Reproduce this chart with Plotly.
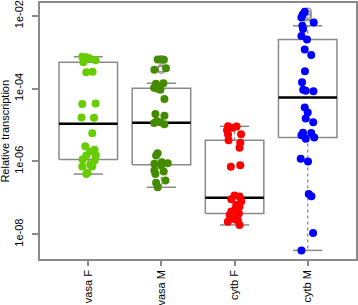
import numpy as np
import plotly.graph_objects as go

# ---------------- data ----------------
categories = ["vasa F", "vasa M", "cytb F", "cytb M"]
point_colors = ["#66CD00", "#458B00", "#FF0000", "#0000FF"]

y_tick_vals = [1e-8, 1e-6, 1e-4, 1e-2]
y_tick_text = ["1e-08", "1e-06", "1e-04", "1e-02"]
y_title = "Relative transcription"

vasa_F = [7.5e-4, 7.3e-4, 6.8e-4, 6.4e-4, 6.6e-4, 6.0e-4, 5.3e-4, 2.8e-4, 2.9e-4,
          3.8e-5, 3.9e-5, 1.6e-5, 1.59e-5, 5.9e-6, 2.6e-6, 2.1e-6, 1.87e-6, 1.46e-6,
          1.46e-6, 1.13e-6, 1.06e-6, 8.2e-7, 7.4e-7, 7.2e-7, 4.9e-7, 4.5e-7]
vasa_F_jitter = [-0.082, -0.027, 0.014, -0.055, -0.014, 0.10, -0.068, -0.027, 0.059,
                 -0.082, 0.10, -0.092, 0.078, 0.055, -0.041, 0.086, 0.027, -0.027,
                 0.105, -0.078, 0.086, 0.027, 0.055, -0.082, -0.01, -0.027]

vasa_M = [6.3e-4, 6.2e-4, 3.3e-4, 3.6e-4, 1.4e-4, 1.36e-4, 1.05e-4, 9.9e-5, 9.3e-5,
          5.2e-5, 2.0e-5, 1.8e-5, 1.26e-5, 1.18e-5, 1.14e-5, 1.04e-5, 1.68e-6, 1.46e-6,
          9.5e-7, 8.9e-7, 8.6e-7, 7.7e-7, 5.6e-7, 5.3e-7, 4.5e-7, 3.0e-7, 2.6e-7, 1.95e-7]
vasa_M_jitter = [-0.051, 0.034, -0.096, 0.062, 0.027, -0.075, -0.10, -0.048, -0.014,
                 0.041, -0.082, 0.041, -0.064, -0.018, -0.10, 0.041, -0.051, -0.073,
                 0.004, 0.086, -0.096, -0.004, -0.096, 0.031, -0.082, 0.055, -0.073, -0.051]

cytb_F = [9.2e-6, 9.1e-6, 8.4e-6, 7.2e-6, 5.6e-6, 5.5e-6, 3.84e-6, 3.25e-6, 2.37e-6,
          7.85e-7, 7.1e-7, 1.15e-7, 1.08e-7, 9.2e-8, 8.1e-8, 6.4e-8, 5.8e-8, 5.0e-8,
          4.2e-8, 3.7e-8, 3.4e-8, 2.9e-8, 2.6e-8, 2.35e-8, 2.2e-8, 1.8e-8]
cytb_F_jitter = [-0.089, 0.027, -0.027, -0.103, 0.089, -0.089, -0.082, 0.078, 0.068,
                 0.078, -0.051, 0.0, 0.068, -0.045, 0.092, 0.023, 0.068, 0.014,
                 -0.045, 0.059, -0.068, 0.031, 0.0, 0.045, -0.092, 0.068]

cytb_M = [1.29e-2, 1.08e-2, 9.0e-3, 6.5e-3, 5.3e-3, 4.3e-3, 2.8e-3, 2.24e-3, 1.19e-3,
          8.3e-4, 3.0e-4, 1.5e-4, 9.3e-5, 8.7e-5, 8.4e-5, 3.0e-5, 2.2e-5, 1.5e-5,
          1.18e-5, 6.1e-6, 6.05e-6, 5.2e-6, 4.5e-6, 4.2e-6, 1.18e-6, 9.9e-7, 1.28e-7,
          1.1e-7, 1.08e-8, 3.6e-9]
cytb_M_jitter = [-0.041, -0.068, -0.086, 0.082, -0.073, -0.064, -0.086, -0.01, -0.041,
                 0.048, -0.038, -0.078, -0.062, -0.027, 0.078, -0.041, 0.0, -0.027,
                 0.075, -0.064, 0.048, -0.086, 0.089, -0.027, -0.096, 0.004, 0.014,
                 0.051, 0.073, -0.086]

groups = [vasa_F, vasa_M, cytb_F, cytb_M]
jitters = [vasa_F_jitter, vasa_M_jitter, cytb_F_jitter, cytb_M_jitter]

# ---------------- style ----------------
FONT = "Liberation Sans, Arial, Helvetica, sans-serif"
GRAY = "#8a8a8a"
BOX_HALF = 0.4
CAP_HALF = 0.2


def fivenum(v):
    x = np.sort(np.asarray(v, dtype=float))
    n = len(x)
    n4 = np.floor((n + 3) / 2) / 2
    d = np.array([1, n4, (n + 1) / 2, n + 1 - n4, n]) - 1
    return 0.5 * (x[np.floor(d).astype(int)] + x[np.ceil(d).astype(int)])


def box_stats(v):
    _, q1, med, q3, _ = fivenum(v)
    x = np.asarray(v, dtype=float)
    iqr = q3 - q1
    inside = (x >= q1 - 1.5 * iqr) & (x <= q3 + 1.5 * iqr)
    return q1, med, q3, x[inside].min(), x[inside].max(), x[~inside]


fig = go.Figure()

for i, (vals, jit, col) in enumerate(zip(groups, jitters, point_colors)):
    p = i + 1
    q1, med, q3, lo, hi, outl = box_stats(vals)
    # whiskers (dashed)
    fig.add_trace(go.Scatter(
        x=[p, p, None, p, p], y=[q3, hi, None, q1, lo], mode="lines",
        line=dict(color=GRAY, width=1.3, dash="3px,3px"), hoverinfo="skip"))
    # staples
    fig.add_trace(go.Scatter(
        x=[p - CAP_HALF, p + CAP_HALF, None, p - CAP_HALF, p + CAP_HALF],
        y=[hi, hi, None, lo, lo], mode="lines",
        line=dict(color=GRAY, width=1.5), hoverinfo="skip"))
    # box
    fig.add_trace(go.Scatter(
        x=[p - BOX_HALF, p + BOX_HALF, p + BOX_HALF, p - BOX_HALF, p - BOX_HALF],
        y=[q1, q1, q3, q3, q1], mode="lines",
        line=dict(color=GRAY, width=1.5), hoverinfo="skip"))
    # median
    fig.add_trace(go.Scatter(
        x=[p - BOX_HALF, p + BOX_HALF], y=[med, med], mode="lines",
        line=dict(color="black", width=2.5), hoverinfo="skip"))
    # outliers
    if len(outl):
        fig.add_trace(go.Scatter(
            x=[p] * len(outl), y=list(outl), mode="markers",
            marker=dict(symbol="circle-open", size=7, color=GRAY, line=dict(width=1.2)),
            hoverinfo="skip"))

for i, (vals, jit, col) in enumerate(zip(groups, jitters, point_colors)):
    p = i + 1
    fig.add_trace(go.Scatter(
        x=[p + j for j in jit], y=vals, mode="markers",
        marker=dict(color=col, size=8, line=dict(width=0)),
        name=categories[i]))

axis_common = dict(
    showline=True, mirror=True, linecolor=GRAY, linewidth=1.5,
    showgrid=False, zeroline=False, ticks="outside", tickcolor=GRAY,
    tickwidth=1.5, tickfont=dict(family=FONT, size=11, color="black"),
    tickangle=-90, automargin=False,
)

fig.update_layout(
    width=358, height=305,
    margin=dict(l=40, r=2, t=3, b=46),
    paper_bgcolor="white", plot_bgcolor="white",
    showlegend=False,
    font=dict(family=FONT, size=11, color="black"),
    xaxis=dict(range=[0.34, 4.66], tickvals=[1, 2, 3, 4], ticktext=categories,
               ticklen=5, **axis_common),
    yaxis=dict(type="log", range=[-8.68, -1.65], tickvals=y_tick_vals,
               ticktext=y_tick_text, ticklen=6, ticklabelstandoff=5, **axis_common),
    annotations=[dict(
        text=y_title, textangle=-90, xref="paper", yref="paper",
        x=-0.112, y=0.5, xanchor="center", yanchor="middle", showarrow=False,
        font=dict(family=FONT, size=11, color="black"))],
)

fig.write_html(
    "out.html",
    config={"displayModeBar": False},
    post_script="document.body.style.margin='0';document.body.style.overflow='hidden';",
)
